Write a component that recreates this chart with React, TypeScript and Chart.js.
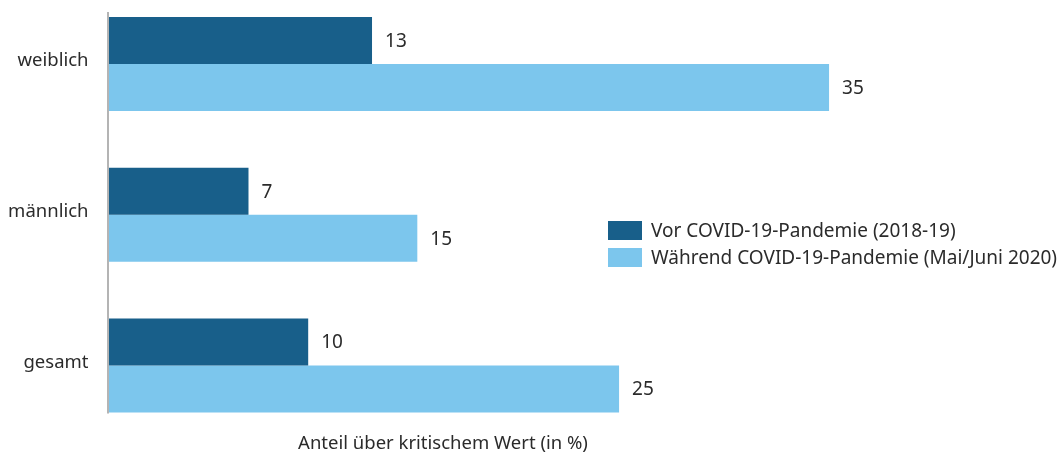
import React, { useEffect, useRef } from "react";
import { Chart, registerables } from "chart.js";

Chart.register(...registerables);

const categories = ["weiblich", "männlich", "gesamt"];
const seriesNames = ["Vor COVID-19-Pandemie (2018-19)", "Während COVID-19-Pandemie (Mai/Juni 2020)"];
const beforeValues = [12.8, 6.8, 9.7];
const duringValues = [35, 15, 24.8];
const xTitle = "Anteil über kritischem Wert (in %)";
const colors = ["#185f8a", "#7cc6ed"];
const FONT = "'Noto Sans', sans-serif";
const TEXT = "#2b2b2b";

const valueLabels = {
  id: "valueLabels",
  afterDatasetsDraw(chart: any) {
    const ctx = chart.ctx;
    ctx.save();
    ctx.font = `19px ${FONT}`;
    ctx.fillStyle = TEXT;
    ctx.textAlign = "left";
    ctx.textBaseline = "middle";
    chart.data.datasets.forEach((ds: any, i: number) => {
      const meta = chart.getDatasetMeta(i);
      meta.data.forEach((bar: any, j: number) => {
        ctx.fillText(String(Math.round(ds.data[j])), bar.x + 13, bar.y + 1);
      });
    });
    ctx.restore();
  },
};

const axisLine = {
  id: "axisLine",
  afterDatasetsDraw(chart: any) {
    const ctx = chart.ctx;
    const x = chart.scales.x.getPixelForValue(0);
    const { top, bottom } = chart.chartArea;
    ctx.save();
    ctx.strokeStyle = "#b4b4b4";
    ctx.lineWidth = 2;
    ctx.beginPath();
    ctx.moveTo(x - 0.5, top - 52);
    ctx.lineTo(x - 0.5, bottom + 48);
    ctx.stroke();
    ctx.restore();
  },
};

export default function App() {
  const ref = useRef<HTMLCanvasElement | null>(null);
  useEffect(() => {
    const chart = new Chart(ref.current as HTMLCanvasElement, {
      type: "bar",
      data: {
        labels: categories,
        datasets: [
          { label: seriesNames[0], data: beforeValues, backgroundColor: colors[0], barPercentage: 1, categoryPercentage: 0.625, clip: false } as any,
          { label: seriesNames[1], data: duringValues, backgroundColor: colors[1], barPercentage: 1, categoryPercentage: 0.625, clip: false } as any,
        ],
      },
      options: {
        indexAxis: "y",
        animation: false,
        responsive: false,
        layout: { padding: { top: 64, bottom: 89.5, right: 131, left: 0 } },
        plugins: { legend: { display: false }, tooltip: { enabled: false } },
        scales: {
          x: { display: false, min: 0, max: 40 },
          y: {
            offset: false,
            grid: { display: false },
            border: { display: false },
            ticks: { padding: 12, labelOffset: -3, color: TEXT, font: { family: FONT, size: 18.5 } },
            afterFit: (s: any) => { s.width = 108.5; },
          },
        },
      },
      plugins: [valueLabels, axisLine],
    });
    return () => chart.destroy();
  }, []);

  return (
    <div style={{ position: "fixed", left: 0, top: 0, width: 1063, height: 455, background: "#fff", fontFamily: FONT, color: TEXT }}>
      <canvas ref={ref} width={1063} height={455} style={{ position: "absolute", left: 0, top: 0 }} />
      <div style={{ position: "absolute", left: 608, top: 217, fontSize: 19, lineHeight: "27px" }}>
        {seriesNames.map((n, i) => (
          <div key={n} style={{ display: "flex", alignItems: "center", height: 27, whiteSpace: "nowrap" }}>
            <span style={{ display: "inline-block", width: 34, height: 19, background: colors[i], marginRight: 9, flex: "none" }} />
            <span>{n}</span>
          </div>
        ))}
      </div>
      <div style={{ position: "absolute", left: 243, width: 400, top: 429, textAlign: "center", fontSize: 18.5, lineHeight: "26px", whiteSpace: "nowrap" }}>
        {xTitle}
      </div>
    </div>
  );
}
